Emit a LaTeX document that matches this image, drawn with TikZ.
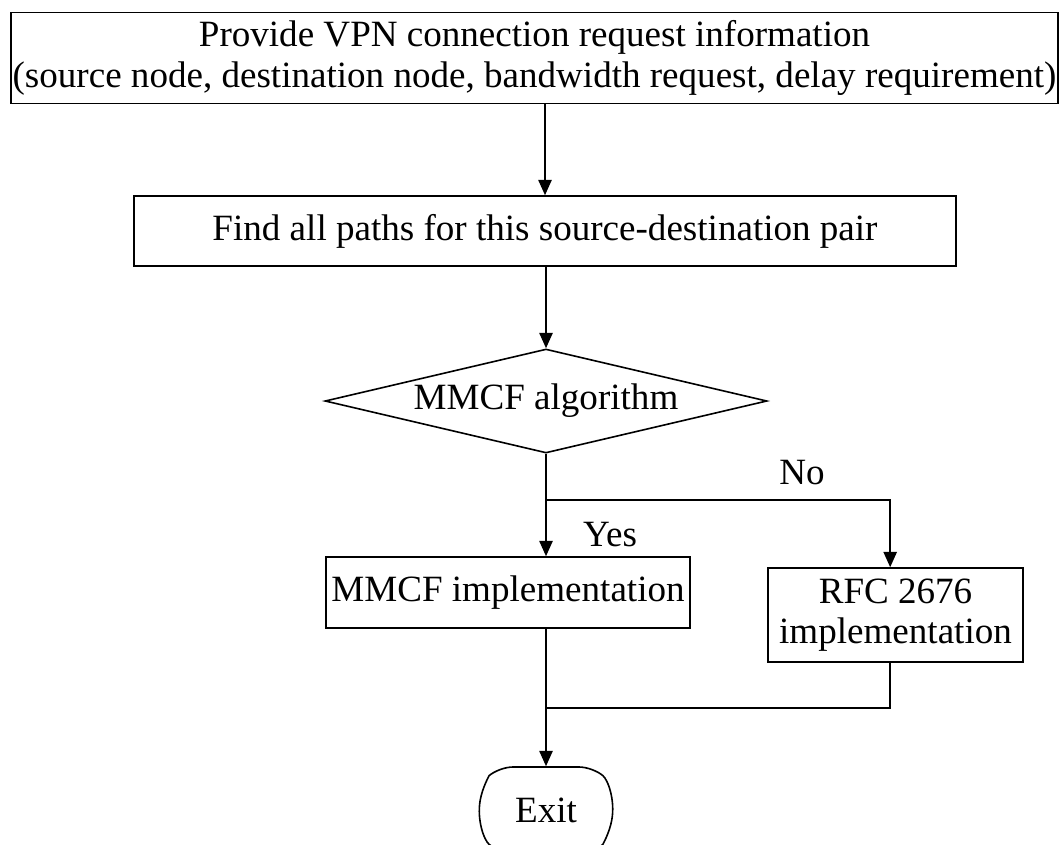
\documentclass[tikz,border=0pt]{standalone}
\usepackage{fontspec}
\setmainfont{Liberation Serif}
\usetikzlibrary{arrows.meta,shapes.geometric,shapes.misc}

\begin{document}
\begin{tikzpicture}[x=0.75pt,y=0.75pt,yscale=-1,xscale=1,
  flowbox/.style={draw, line width=1.2pt, inner sep=0pt, align=center, font=\fontsize{27.8}{30.5}\selectfont},
  flowline/.style={line width=1.2pt},
  flowarrow/.style={line width=1.2pt, -{Triangle[length=11.5pt,width=10pt]}},
  lbl/.style={inner sep=0pt, font=\fontsize{27.8}{30.5}\selectfont}]
\useasboundingbox (0,0) rectangle (1062,844);
% boxes
\node [flowbox, minimum width=785pt, minimum height=68pt] (req) at (534.5,58) {Provide VPN connection request information\\(source node, destination node, bandwidth request, delay requirement)};
\node [flowbox, minimum width=616.5pt, minimum height=52.5pt] (paths) at (545,231) {Find all paths for this source-destination pair};
\node [flowbox, diamond, aspect=4.25, minimum width=331.5pt, minimum height=78pt] (alg) at (546,401) {MMCF algorithm};
\node [flowbox, minimum width=273pt, minimum height=53.25pt] (impl) at (508,592.5) {MMCF implementation};
\node [flowbox, minimum width=191.25pt, minimum height=70.5pt] (rfc) at (895.5,615) {RFC 2676\\implementation};
\node [flowbox, rounded rectangle, rounded rectangle arc length=100, rounded corners=10pt, minimum width=100pt, minimum height=64.5pt] (exit) at (546,810) {Exit};
\coordinate (split) at (546,500);
\coordinate (merge) at (546,708);
% connectors
\draw [flowarrow] (paths.north |- req.south) -- (paths.north);
\draw [flowarrow] (paths.south -| alg.north) -- (alg.north);
\draw [flowline] (alg.south) -- (split);
\draw [flowarrow] (split) -- (split |- impl.north);
\draw [flowarrow] (split) -| ([xshift=-4pt]rfc.north);
\draw [flowline] (impl.south -| merge) -- (merge);
\draw [flowline] ([xshift=-4pt]rfc.south) |- (merge);
\draw [flowarrow] (merge) -- (exit.north);
% labels
\node [lbl] (yes) at (610,535) {Yes};
\node [lbl] (no) at (802,473) {No};
\end{tikzpicture}
\end{document}
